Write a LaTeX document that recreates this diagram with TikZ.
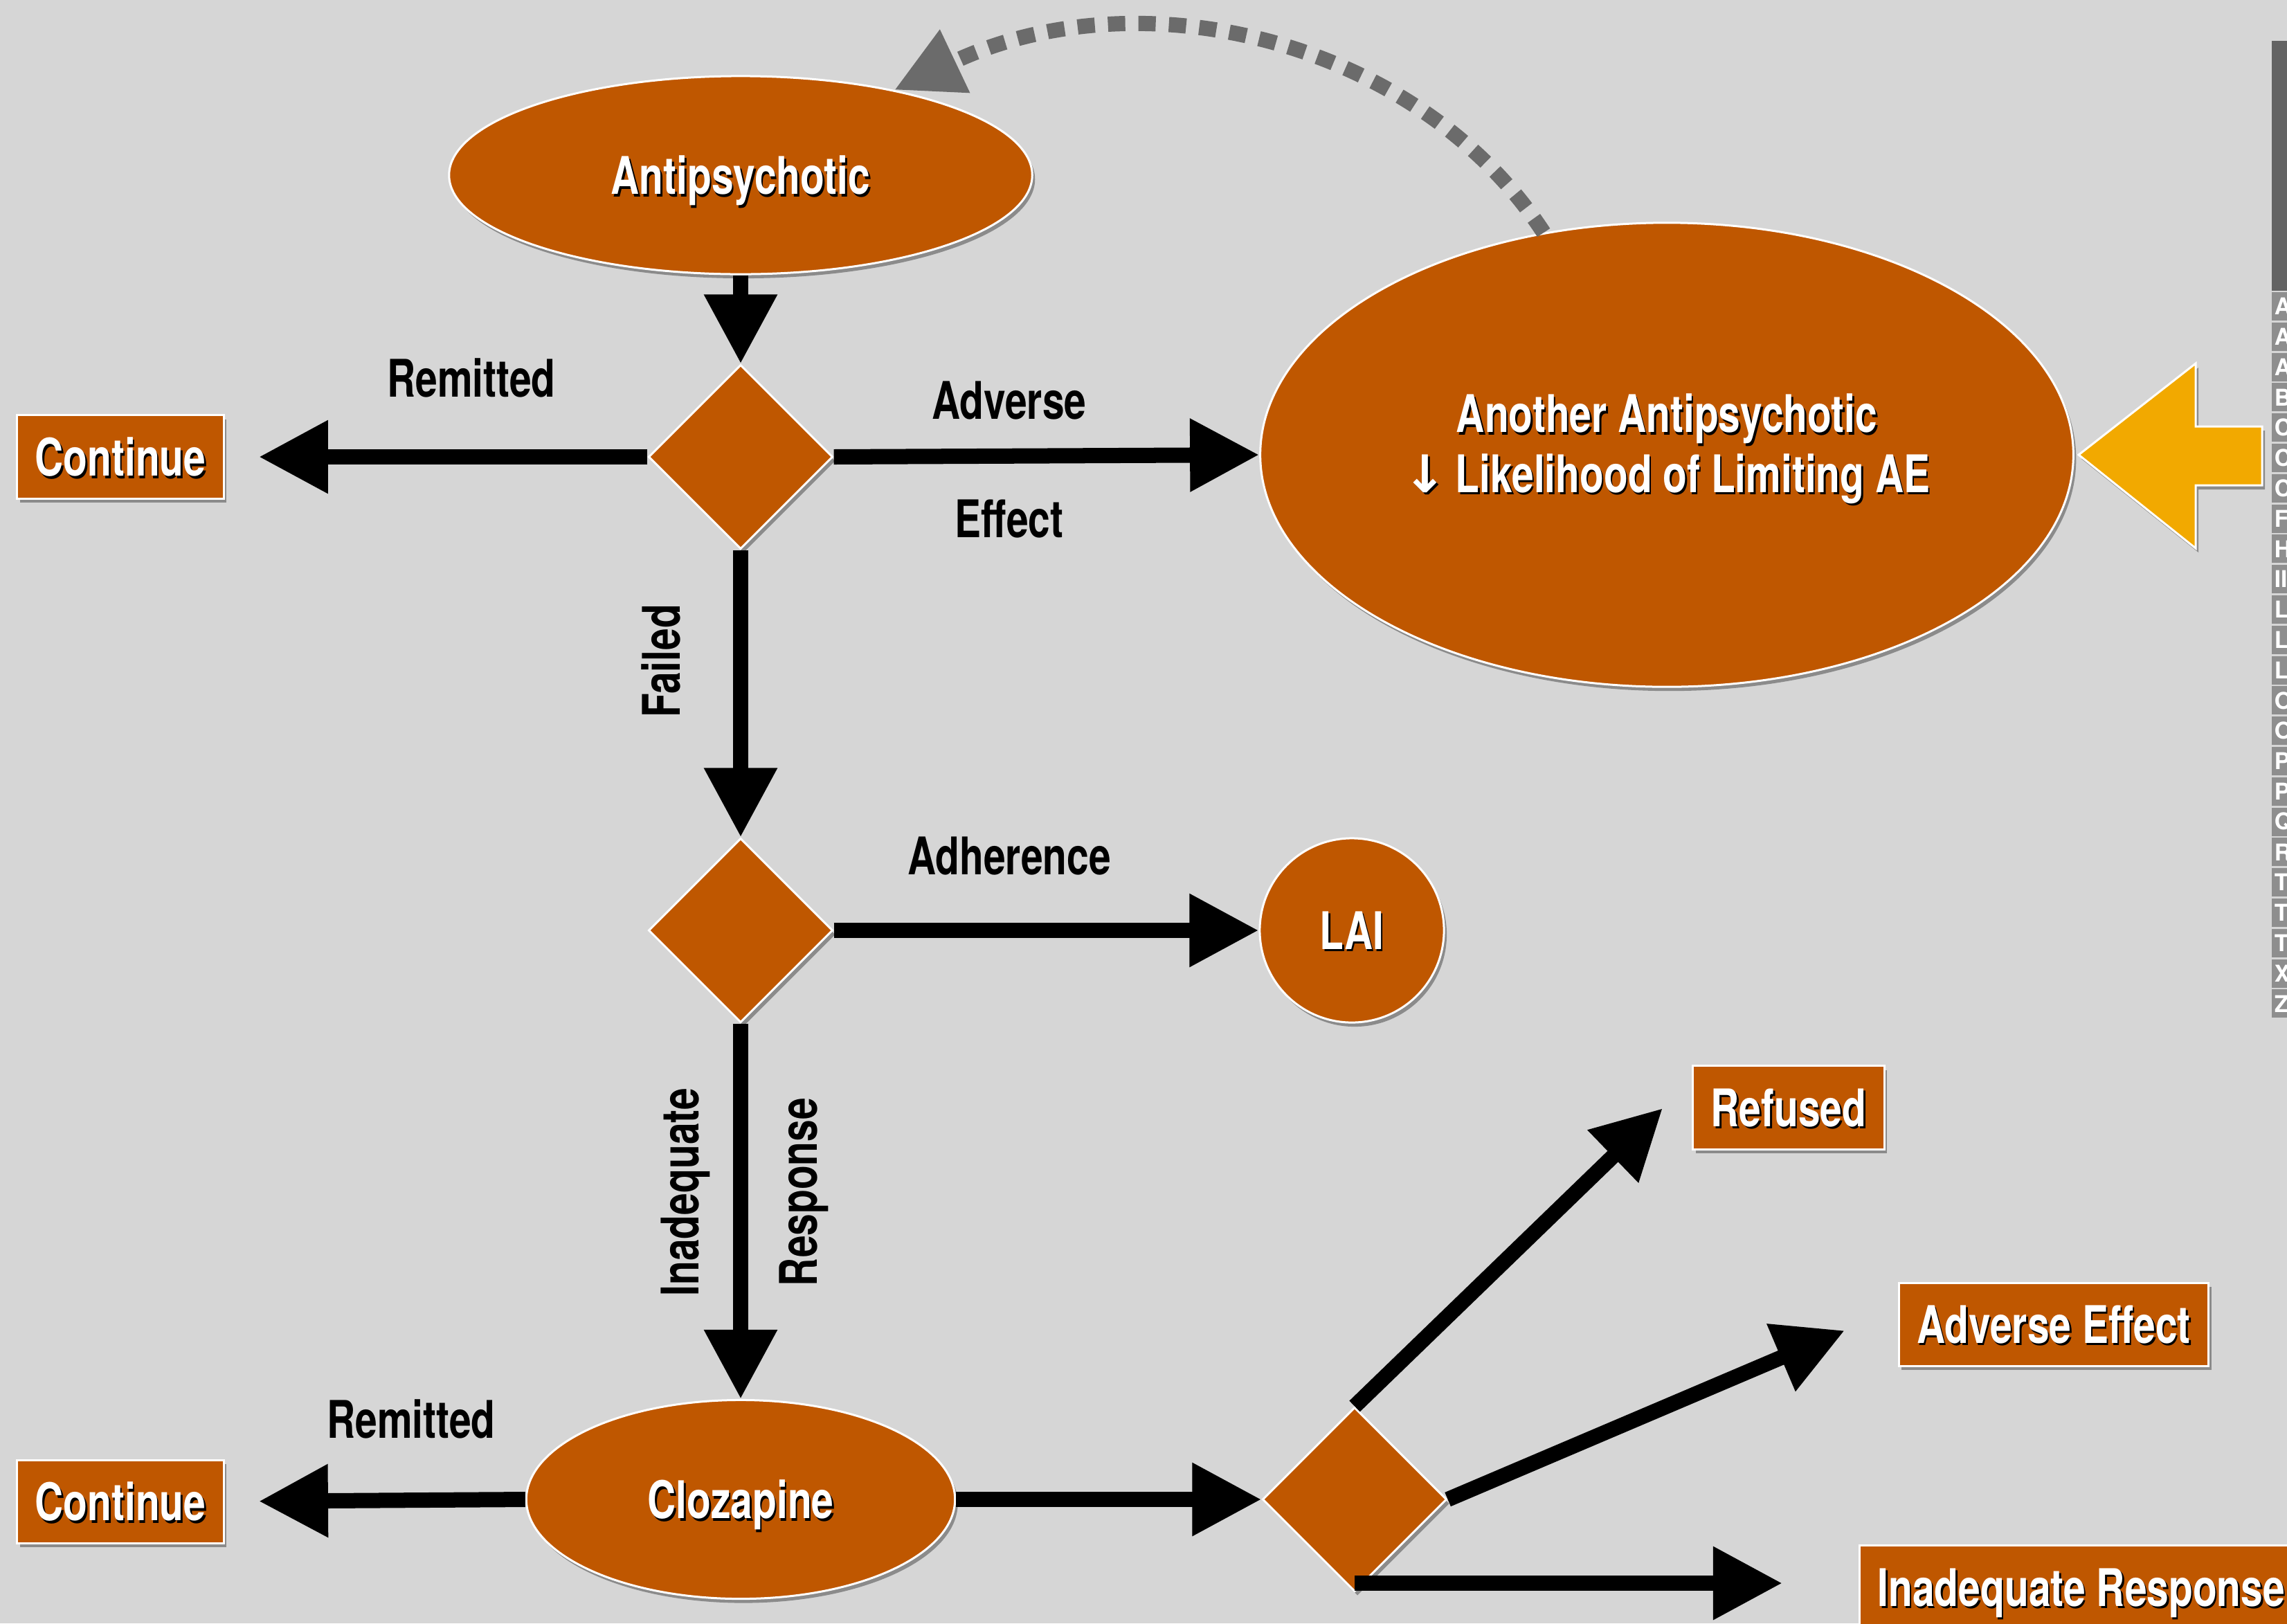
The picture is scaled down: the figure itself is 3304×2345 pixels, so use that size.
\documentclass[tikz,border=0pt]{standalone}
\usepackage{fontspec}
\setmainfont{TeX Gyre Heros}
\newfontfamily\cond{TeX Gyre Heros}[FakeStretch=0.76]
\newfontfamily\arrfont{DejaVu Sans}
\usetikzlibrary{shapes.geometric,arrows.meta,shadows}
\definecolor{bg}{HTML}{D6D6D6}
\definecolor{burnt}{HTML}{BF5700}
\definecolor{gold}{HTML}{F2A900}
\definecolor{dgray}{HTML}{6B6B6B}
\definecolor{barc}{HTML}{636363}
\definecolor{cellc}{HTML}{8E8E8E}
\newcommand\tsh[1]{\rlap{\hspace{0.025cm}\raisebox{-0.035cm}{\color{black}#1}}#1}
\tikzset{
  shapeshadow/.style={drop shadow={shadow xshift=0.04cm, shadow yshift=-0.06cm, opacity=0.35, fill=black}},
  bigfont/.style={font=\cond\bfseries\fontsize{21.3}{24.5}\selectfont},
  blob/.style={fill=burnt, draw=white, line width=0.03cm, text=white, bigfont, shapeshadow, inner sep=0pt},
  flat/.style={text depth=0pt},
  oval/.style={blob, ellipse},
  roundnode/.style={blob, flat, circle, minimum size=2.66cm},
  dec/.style={blob, diamond, minimum width=2.66cm, minimum height=2.66cm, aspect=1},
  box/.style={blob, flat, rectangle, minimum height=1.2cm, inner xsep=0.26cm},
  lbl/.style={bigfont, text=black, inner sep=0pt},
  flow/.style={draw=black, line width=0.22cm, -{Triangle[length=1.0cm, width=1.0cm]}},
}
\begin{document}
\begin{tikzpicture}[x=0.01cm, y=-0.01cm]
\fill[bg] (0,0) rectangle (3304,2345);
\useasboundingbox (0,0) rectangle (3304,2345);
\clip (0,0) rectangle (3304,2345);

% right side index bar
\fill[barc] (3282,59) rectangle (3310,420);
\foreach \L [count=\i from 0] in {A,A,A,B,C,C,C,F,H,II,L,L,L,O,O,P,P,Q,R,T,T,T,X,Z}{
  \fill[cellc] (3282,{442.5+43.8*\i-20.5}) rectangle (3310,{442.5+43.8*\i+20.5});
  \node[anchor=west, text=white, font=\bfseries\fontsize{9.5}{10}\selectfont, inner sep=0pt] (cell\i) at (3285,{442.5+43.8*\i}) {\L};
}

% yellow arrow
\filldraw[fill=gold, draw=white, line width=0.03cm, shapeshadow]
  (3003,657) -- (3172,525) -- (3172,616) -- (3268,616) -- (3268,701) -- (3172,701) -- (3172,792) -- cycle;

% nodes
\node[oval, flat, minimum width=8.42cm, minimum height=2.86cm] (anti) at (1070,253) {\tsh{Antipsychotic}};
\node[dec] (d1) at (1070,660) {};
\node[box] (cont1) at (174,660) {\tsh{Continue}};
\node[oval, minimum width=11.74cm, minimum height=6.70cm, align=center] (another) at (2408,657) {};
\node[bigfont, text=white, align=center, inner sep=0pt] (anotherText) at (2408,650)
  {\tsh{Another Antipsychotic}\\\tsh{{\arrfont\bfseries ↓}\,Likelihood of Limiting AE}};
\node[dec] (d2) at (1070,1344) {};
\node[roundnode] (lai) at (1953,1344) {\tsh{LAI}};
\node[oval, flat, minimum width=6.19cm, minimum height=2.87cm] (cloz) at (1070,2166) {\tsh{Clozapine}};
\node[box] (cont2) at (174,2169) {\tsh{Continue}};
\node[dec] (d3) at (1957,2166) {};
\node[box] (ref) at (2584,1600) {\tsh{Refused}};
\node[box] (ae) at (2967,1913) {\tsh{Adverse Effect}};
\node[box, anchor=west, minimum height=1.22cm] (inr) at (2685,2293) {\tsh{Inadequate Response}};

% labels
\node[lbl] (l1) at (681,546) {Remitted};
\node[lbl] (l2) at (1458,579) {Adverse};
\node[lbl] (l3) at (1458,750) {Effect};
\node[lbl, rotate=90] (l4) at (955,955) {Failed};
\node[lbl] (l5) at (1458,1237) {Adherence};
\node[lbl, rotate=90] (l6) at (990,1722) {Inadequate};
\node[lbl, rotate=90] (l7) at (1161,1722) {Response};
\node[lbl] (l8) at (594,2050) {Remitted};

% free ends
\coordinate (tref) at (2402,1601);
\coordinate (tae) at (2665,1922);
\coordinate (tinr) at (2575,2287);

% connectors
\draw[flow] (anti.south) -- (d1.north);
\draw[flow, shorten >=0.49cm] (d1.west) -- (cont1.east);
\draw[flow] (d1.east) -- (another.west);
\draw[flow] (d1.south) -- (d2.north);
\draw[flow] (d2.east) -- (lai.west);
\draw[flow] (d2.south) -- (cloz.north);
\draw[flow, shorten >=0.49cm] (cloz.west) -- (cont2.east);
\draw[flow] (cloz.east) -- (d3.west);
\draw[flow] (d3.north) -- (tref);
\draw[flow] (d3.east) -- (tae);
\draw[flow] (d3.south |- tinr) -- (tinr);

% dashed feedback arrow
\draw[dgray, line width=0.22cm, dash pattern=on 0.25cm off 0.19cm, -{Triangle[length=0.97cm, width=0.95cm]}]
  (another.119) .. controls (2050,60) and (1650,-40) .. (anti.29);
\end{tikzpicture}
\end{document}
